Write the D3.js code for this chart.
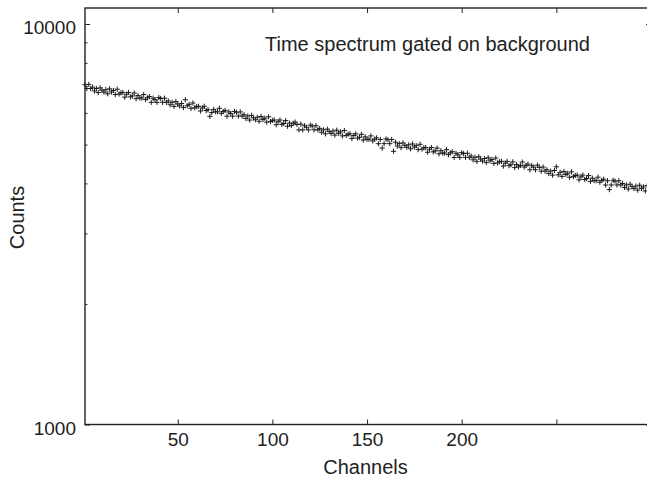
<!DOCTYPE html>
<html>
<head>
<meta charset="utf-8">
<script src="https://cdn.jsdelivr.net/npm/d3@7/dist/d3.min.js"></script>
<style>
  html, body { margin: 0; padding: 0; background: #fff; }
  svg { display: block; }
  text { font-family: "Liberation Sans", Arial, Helvetica, sans-serif; fill: #222; }
</style>
</head>
<body>
<svg id="chart" width="647" height="480"></svg>
<script>
// ---- data ----
const firstChannel = 1;
const counts = [
  7054, 6900, 7067, 6901, 6956, 6804, 6902, 6743, 6929, 6833,
  6758, 6854, 6697, 6888, 6765, 6820, 6664, 6874, 6686, 6732,
  6746, 6566, 6679, 6746, 6580, 6613, 6726, 6508, 6627, 6535,
  6535, 6666, 6477, 6542, 6588, 6373, 6529, 6471, 6374, 6549,
  6516, 6375, 6529, 6375, 6426, 6287, 6376, 6230, 6401, 6313,
  6244, 6332, 6187, 6470, 6250, 6301, 6157, 6351, 6177, 6220,
  6232, 6066, 6171, 6232, 6079, 6110, 5880, 6012, 6122, 6037,
  6038, 6159, 5984, 6044, 6086, 5888, 6032, 5978, 5888, 6050,
  6020, 5890, 6033, 5890, 5937, 5809, 5891, 5756, 5915, 5832,
  5768, 5850, 5716, 5879, 5774, 5821, 5688, 5867, 5707, 5746,
  5758, 5604, 5702, 5758, 5616, 5645, 5741, 5555, 5657, 5578,
  5651, 5690, 5612, 5440, 5623, 5440, 5573, 5523, 5442, 5591,
  5562, 5442, 5574, 5442, 5486, 5367, 5443, 5318, 5465, 5389,
  5329, 5405, 5281, 5431, 5335, 5378, 5256, 5420, 5272, 5309,
  5320, 5177, 5267, 5319, 5189, 5215, 5304, 5132, 5226, 5154,
  5153, 5257, 5107, 5159, 5196, 5025, 5149, 4900, 5027, 5164,
  5139, 5027, 5149, 4810, 5068, 4958, 5028, 4913, 5048, 4978,
  4923, 4993, 4880, 5018, 4929, 4968, 4856, 5008, 4871, 4906,
  4915, 4784, 4867, 4915, 4795, 4819, 4901, 4742, 4829, 4761,
  4761, 4857, 4718, 4767, 4799, 4643, 4757, 4714, 4644, 4772,
  4747, 4645, 4757, 4644, 4682, 4580, 4645, 4539, 4664, 4600,
  4548, 4613, 4508, 4636, 4554, 4590, 4486, 4627, 4500, 4532,
  4541, 4419, 4495, 4540, 4429, 4452, 4527, 4380, 4460, 4399,
  4434, 4522, 4395, 4439, 4469, 4325, 4430, 4391, 4326, 4443,
  4386, 4291, 4395, 4292, 4326, 4232, 4292, 4194, 4309, 4400,
  4202, 4262, 4164, 4283, 4208, 4241, 4144, 4275, 4158, 4187,
  4195, 4083, 4154, 4196, 4092, 4113, 4183, 4047, 4122, 4064,
  4064, 4145, 4027, 4068, 4097, 3963, 4060, 3860, 3964, 4072,
  4052, 3964, 4060, 3965, 3997, 3909, 3965, 3874, 3981, 3926,
  3883, 3938, 3848, 3958, 3887, 3919, 3830, 3949
];
const xDomain = [1, 300];
const yDomain = [1000, 10965];
const xTicks = [50, 100, 150, 200, 250];
const xTickLabels = ["50", "100", "150", "200", ""];
const yMajorTicks = [1000, 10000];
const yMajorLabels = ["1000", "10000"];
const yMinorTicks = [2000, 3000, 4000, 5000, 6000, 7000, 8000, 9000];
const titleText = "Time spectrum gated on background";
const xTitle = "Channels";
const yTitle = "Counts";

// ---- layout ----
const svg = d3.select("#chart");
const L = 85, R = 651, T = 8, B = 424.5;
const ink = "#222";

const x = d3.scaleLinear().domain(xDomain).range([L, R]);
const y = d3.scaleLog().domain(yDomain).range([B, T]);

// data markers
const pts = counts.map((v, i) => ({ ch: firstChannel + i, v }));
svg.append("g")
  .selectAll("path")
  .data(pts)
  .join("path")
  .attr("transform", d => `translate(${x(d.ch)},${y(d.v)})`)
  .attr("d", "M-2.6,0H2.6M0,-2.6V2.6")
  .attr("stroke", "#1a1a1a")
  .attr("stroke-width", 1)
  .attr("fill", "none");

// axes
const tickFont = 19;
const labelFont = 20;
const gx = svg.append("g").attr("transform", `translate(0,${B})`)
  .call(d3.axisBottom(x).tickValues(xTicks)
    .tickFormat((d, i) => xTickLabels[i])
    .tickSizeInner(-5).tickSizeOuter(0).tickPadding(8.5));
const gxt = svg.append("g").attr("transform", `translate(0,${T})`)
  .call(d3.axisTop(x).tickValues(xTicks).tickFormat("")
    .tickSizeInner(-5).tickSizeOuter(0));
const gy = svg.append("g").attr("transform", `translate(${L},0)`)
  .call(d3.axisLeft(y).tickValues(yMajorTicks)
    .tickFormat((d, i) => yMajorLabels[i])
    .tickSizeInner(-5).tickSizeOuter(0).tickPadding(9));
const gym = svg.append("g").attr("transform", `translate(${L},0)`)
  .call(d3.axisLeft(y).tickValues(yMinorTicks).tickFormat("")
    .tickSizeInner(-2.5).tickSizeOuter(0));
const gyr = svg.append("g").attr("transform", `translate(${R},0)`)
  .call(d3.axisRight(y).tickValues(yMajorTicks).tickFormat("")
    .tickSizeInner(-5).tickSizeOuter(0));
const gyrm = svg.append("g").attr("transform", `translate(${R},0)`)
  .call(d3.axisRight(y).tickValues(yMinorTicks).tickFormat("")
    .tickSizeInner(-2.5).tickSizeOuter(0));

[gx, gxt, gy, gym, gyr, gyrm].forEach(g => {
  g.select(".domain").remove();
  g.selectAll("line").attr("stroke", ink).attr("stroke-width", 1);
  g.selectAll("text").attr("fill", ink)
    .style("font-family", '"Liberation Sans", Arial, sans-serif')
    .style("font-size", tickFont + "px");
});
gy.selectAll("text").attr("dy", "0.5em");

// frame
svg.append("rect")
  .attr("x", L).attr("y", T)
  .attr("width", R - L).attr("height", B - T)
  .attr("fill", "none").attr("stroke", ink).attr("stroke-width", 1.4);

// texts
svg.append("text")
  .attr("x", 265).attr("y", 51)
  .style("font-size", labelFont + "px")
  .text(titleText);
svg.append("text")
  .attr("x", 365.5).attr("y", 474)
  .attr("text-anchor", "middle")
  .style("font-size", labelFont + "px")
  .text(xTitle);
svg.append("text")
  .attr("transform", "translate(23.5,217.5) rotate(-90)")
  .attr("text-anchor", "middle")
  .style("font-size", labelFont + "px")
  .text(yTitle);
</script>
</body>
</html>
